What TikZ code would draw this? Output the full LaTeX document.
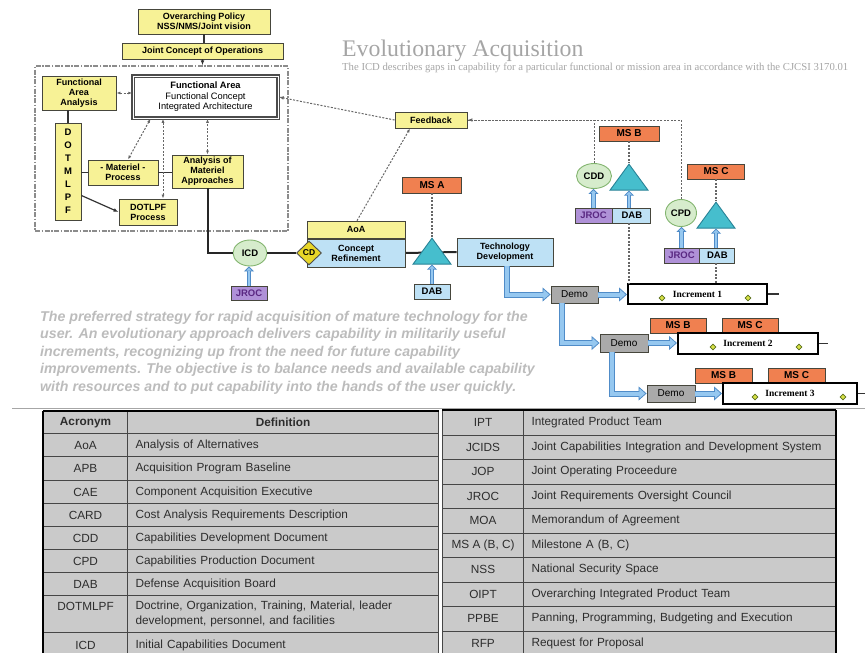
\documentclass[tikz,border=0pt]{standalone}
\usepackage{fontspec}
\setmainfont{Liberation Sans}
\newfontfamily\serifface{Liberation Serif}
\usepackage{xcolor}
\usetikzlibrary{arrows.meta,positioning,shapes.geometric,calc,backgrounds}

\definecolor{boxyellow}{RGB}{247,242,150}
\definecolor{boxedge}{RGB}{70,70,60}
\definecolor{msorange}{RGB}{240,128,80}
\definecolor{paleblue}{RGB}{190,225,245}
\definecolor{triteal}{RGB}{70,190,205}
\definecolor{triedge}{RGB}{40,130,150}
\definecolor{docgreen}{RGB}{214,236,204}
\definecolor{docedge}{RGB}{130,180,110}
\definecolor{jrocpurple}{RGB}{175,145,215}
\definecolor{jroctext}{RGB}{90,40,130}
\definecolor{cdyellow}{RGB}{232,214,40}
\definecolor{demogray}{RGB}{170,170,170}
\definecolor{arrowfill}{RGB}{150,200,240}
\definecolor{arrowedge}{RGB}{80,140,200}
\definecolor{gemfill}{RGB}{215,225,70}
\definecolor{gemedge}{RGB}{90,110,30}
\definecolor{titlegray}{RGB}{165,165,165}
\definecolor{paragray}{RGB}{188,188,188}
\definecolor{tabfill}{RGB}{202,202,202}
\definecolor{tabline}{RGB}{70,70,70}
\definecolor{tabtext}{RGB}{45,45,45}

\begin{document}
\begin{tikzpicture}[x=1pt,y=-1pt,
  box/.style={draw=boxedge,fill=boxyellow,line width=0.9pt,align=center,inner sep=0,
              font=\fontsize{9}{10}\selectfont\bfseries},
  fabox/.style={draw=black!70,fill=white,line width=1.5pt,double=white,double distance=1pt,
              align=center,inner sep=0,font=\fontsize{9.3}{10.5}\selectfont},
  frame/.style={draw=black!45,line width=1.2pt,dash pattern=on 5pt off 1.5pt on 1.5pt off 1.5pt},
  msbox/.style={box,fill=msorange,font=\fontsize{10}{11}\selectfont\bfseries},
  bluebox/.style={box,fill=paleblue},
  smallbox/.style={box,font=\fontsize{9.5}{10}\selectfont\bfseries},
  jroc/.style={smallbox,fill=jrocpurple,text=jroctext},
  doc/.style={ellipse,draw=docedge,fill=docgreen,line width=0.9pt,inner sep=0,
              font=\fontsize{9.5}{10}\selectfont\bfseries},
  cdmark/.style={diamond,draw=black!70,fill=cdyellow,line width=0.9pt,inner sep=0,
              minimum width=25,minimum height=24,font=\fontsize{8.5}{9}\selectfont\bfseries},
  tri/.style={isosceles triangle,isosceles triangle stretches,shape border rotate=90,
              draw=triedge,fill=triteal,line width=0.9pt,inner sep=0,minimum width=38,minimum height=26},
  demo/.style={box,fill=demogray,font=\fontsize{10}{11}\selectfont},
  incbox/.style={draw=black,line width=2pt,fill=white,inner sep=0,
              font=\serifface\fontsize{9.5}{10}\selectfont\bfseries},
  gem/.style={diamond,draw=gemedge,fill=gemfill,line width=0.6pt,inner sep=0,minimum size=6},
  link/.style={line width=2pt,draw=black!85},
  thinlink/.style={line width=1.2pt,draw=black!80},
  dotline/.style={line width=1pt,draw=black!60,dash pattern=on 2pt off 1.5pt},
  fat/.style={draw=arrowedge,line width=6pt,
              -{Triangle[length=8pt,width=14pt,line width=0.8pt,fill=arrowfill]},
              postaction={draw=arrowfill,line width=4pt,-,shorten >=7pt}},
  upfat/.style={draw=arrowedge,line width=4.5pt,
              -{Triangle[length=5pt,width=10pt,line width=0.8pt,fill=arrowfill]},
              postaction={draw=arrowfill,line width=2.8pt,-,shorten >=4.5pt}},
  acr/.style={draw=tabline,fill=tabfill,line width=1.1pt,anchor=north west,inner sep=0,align=center,
              minimum width=84,minimum height=23,text=tabtext,font=\fontsize{11.8}{15}\selectfont},
  defn/.style={acr,minimum width=311,text width=295,inner xsep=8,align=left},
  racr/.style={acr,minimum width=81,minimum height=24.5},
  rdefn/.style={racr,minimum width=312,text width=296,inner xsep=8,align=left}]
\useasboundingbox (0,0) rectangle (865,653);

\node[anchor=base west,text=titlegray,inner sep=0,font=\serifface\fontsize{23.8}{25}\selectfont]
  (title) at (342,56) {Evolutionary Acquisition};
\node[anchor=base west,text=titlegray,inner sep=0,font=\serifface\fontsize{10.7}{11}\selectfont]
  (subtitle) at (342,70) {The ICD describes gaps in capability for a particular functional or
  mission area in accordance with the CJCSI 3170.01};

\node[box,minimum width=132,minimum height=25] (policy) at (204,21.5) {Overarching Policy\\NSS/NMS/Joint vision};
\node[box,minimum width=161,minimum height=16] (jco) at (202.5,51) {Joint Concept of Operations};
\node[frame,minimum width=253,minimum height=165] (area) at (161.5,148.5) {};
\node[box,minimum width=74,minimum height=34] (faa) at (79,93) {Functional\\Area\\Analysis};
\node[fabox,minimum width=145,minimum height=42] (fa) at (205.5,97)
  {{\bfseries Functional Area}\\Functional Concept\\Integrated Architecture};
\node[box,minimum width=26,minimum height=97,font=\fontsize{9.5}{13}\selectfont\bfseries]
  (dotmlpf) at (68,171.5) {D\\O\\T\\M\\L\\P\\F};
\node[box,minimum width=70,minimum height=25] (matproc) at (123,172.5) {- Materiel -\\Process};
\node[box,minimum width=71,minimum height=33] (ama) at (207.5,171.5) {Analysis of\\Materiel\\Approaches};
\node[box,minimum width=58,minimum height=26] (dotlpf) at (148,212) {DOTLPF\\Process};

\draw[thinlink] (policy.south) -- (policy.south |- jco.north);
\draw[thinlink,-{Latex[length=5pt]}] (jco.south) -- (jco.south |- area.north);
\draw[dotline,{Latex[length=4pt]}-{Latex[length=4pt]}] (faa.east) -- (faa.east -| fa.west);
\draw[thinlink] (dotmlpf.north) -- (dotmlpf.north |- faa.south);
\draw[thinlink] (matproc.west -| dotmlpf.east) -- (matproc.west);
\draw[thinlink] (matproc.east) -- (matproc.east -| ama.west);
\draw[thinlink,-{Latex[length=5pt]}] ($(dotmlpf.east)+(0,24)$) -- (dotlpf.west);
\draw[dotline,{Latex[length=4pt]}-{Latex[length=4pt]}] ([xshift=-55]fa.south) -- ([xshift=5]matproc.north);
\draw[dotline,{Latex[length=4pt]}-{Latex[length=4pt]}] ([xshift=15]dotlpf.north) -- ([xshift=15]dotlpf.north |- fa.south);
\draw[dotline,{Latex[length=4pt]}-{Latex[length=4pt]}] (ama.north) -- (ama.north |- fa.south);

\node[doc,minimum width=34,minimum height=26] (icd) at (250,253) {ICD};
\node[jroc,minimum width=36,minimum height=14] (jroc1) at (249,293) {JROC};
\node[bluebox,minimum width=98,minimum height=28] (cr) at (356,253) {Concept\\Refinement};
\node[box,minimum width=98,minimum height=17,above=0pt of cr] (aoa) {AoA};
\node[cdmark] (cd) at (309,253) {CD};
\node[tri,anchor=apex] (trA) at (432,237) {};
\node[msbox,minimum width=59,minimum height=16] (msa) at (432,185) {MS A};
\node[bluebox,smallbox,fill=paleblue,minimum width=36,minimum height=15] (dab1) at (432,291.5) {DAB};
\node[bluebox,minimum width=96,minimum height=28] (td) at (505,252) {Technology\\Development};
\node[box,minimum width=72,minimum height=16] (fb) at (431,120) {Feedback};

\begin{scope}[on background layer]
\draw[link] (cr.east) -- (td.west);
\end{scope}
\draw[link] (ama.south) |- (icd.west);
\draw[link] (icd) -- (cd);
\draw[dotline,line width=1.3pt] (msa.south) -- (trA.apex);
\draw[upfat] (jroc1.north) -- (jroc1.north |- icd.south);
\draw[upfat] (dab1.north) -- (dab1.north |- trA.south);
\draw[dotline,-{Latex[length=4pt]}] ([xshift=1]aoa.north) -- ([xshift=-21]fb.south);
\draw[dotline,-{Latex[length=5pt]}] (fb.west) -- (fa.east);

\node[doc,minimum width=35,minimum height=25] (cdd) at (594,176) {CDD};
\node[tri,anchor=apex] (trB) at (629,163) {};
\node[msbox,minimum width=60,minimum height=15] (msb) at (629,133.5) {MS B};
\node[jroc,minimum width=37,minimum height=15] (jroc2) at (593.5,215.5) {JROC};
\node[smallbox,fill=paleblue,minimum width=38,minimum height=15,right=0pt of jroc2] (dab2) {DAB};
\node[doc,minimum width=31,minimum height=27] (cpd) at (681,213) {CPD};
\node[tri,anchor=apex] (trC) at (716,201) {};
\node[msbox,minimum width=57,minimum height=15] (msc) at (716,171.5) {MS C};
\node[jroc,minimum width=35,minimum height=15] (jroc3) at (681.5,255.5) {JROC};
\node[smallbox,fill=paleblue,minimum width=35,minimum height=15,right=0pt of jroc3] (dab3) {DAB};

\draw[dotline,line width=1.3pt] (msb.south) -- (trB.apex);
\draw[dotline,line width=1.3pt] (msc.south) -- (trC.apex);
\draw[upfat] (jroc2.north) -- (jroc2.north |- cdd.south);
\draw[upfat] (trB.south |- dab2.north) -- (trB.south);
\draw[upfat] (jroc3.north) -- (jroc3.north |- cpd.south);
\draw[upfat] (trC.south |- dab3.north) -- (trC.south);
\draw[dotline] (cpd.north) |- (fb.east);
\draw[dotline,-{Latex[length=5pt]}] (cdd.north) |- (fb.east);

\node[demo,minimum width=47,minimum height=17] (demo1) at (574.5,294.5) {Demo};
\node[incbox,minimum width=139,minimum height=20] (inc1) at (697.5,294) {Increment 1};
\node[demo,minimum width=48,minimum height=18] (demo2) at (624,343) {Demo};
\node[msbox,minimum width=56,minimum height=15] (msb2) at (678,325.5) {MS B};
\node[msbox,minimum width=56,minimum height=15] (msc2) at (750,325.5) {MS C};
\node[incbox,minimum width=140,minimum height=21] (inc2) at (748,343.5) {Increment 2};
\node[demo,minimum width=48,minimum height=17] (demo3) at (671,393.5) {Demo};
\node[msbox,minimum width=57,minimum height=15] (msb3) at (723.5,375.5) {MS B};
\node[msbox,minimum width=57,minimum height=15] (msc3) at (796.5,375.5) {MS C};
\node[incbox,minimum width=134,minimum height=21] (inc3) at (790,393.5) {Increment 3};
\node[gem] (g1a) at (662,298) {};
\node[gem] (g1b) at (748,298) {};
\node[gem] (g2a) at (713,347) {};
\node[gem] (g2b) at (799,347) {};
\node[gem] (g3a) at (755,397) {};
\node[gem] (g3b) at (843,397) {};

\draw[dotline,line width=1.3pt] (trB.south |- dab2.south) -- (trB.south |- inc1.north);
\draw[dotline,line width=1.3pt] (trC.south |- dab3.south) -- (trC.south |- inc1.north);
\draw[fat] ([xshift=2]td.south) |- (demo1.west);
\draw[fat] (demo1.east) -- (demo1.east -| inc1.west);
\draw[fat] ([xshift=-12.5]demo1.south) |- (demo2.west);
\draw[fat] (demo2.east) -- (demo2.east -| inc2.west);
\draw[fat] ([xshift=-12]demo2.south) |- (demo3.west);
\draw[fat] (demo3.east) -- (demo3.east -| inc3.west);
\draw[thinlink] (inc1.east) -- ++(11,0);
\draw[thinlink] (inc2.east) -- ++(9,0);
\draw[thinlink] (inc3.east) -- ++(12,0);

\node[anchor=north west,align=left,text=paragray,inner sep=0,
  font=\fontsize{14.2}{17.5}\selectfont\bfseries\itshape] (blurb) at (40,311)
  {The preferred strategy for rapid acquisition of mature technology for the\\
   user. An evolutionary approach delivers capability in militarily useful\\
   increments, recognizing up front the need for future capability\\
   improvements. The objective is to balance needs and available capability\\
   with resources and to put capability into the hands of the user quickly.};

\draw[gray!70,line width=1pt] (12,408) -- (865,408);

\node[acr,minimum height=22] (la0) at (43,411) {\bfseries Acronym};
\node[defn,minimum height=22,align=center] (ld0) at (127,411) {\bfseries Definition};
\node[acr] (la1) at (43,433) {AoA};
\node[defn] (ld1) at (127,433) {Analysis of Alternatives};
\node[acr,minimum height=24] (la2) at (43,456) {APB};
\node[defn,minimum height=24] (ld2) at (127,456) {Acquisition Program Baseline};
\node[acr] (la3) at (43,480) {CAE};
\node[defn] (ld3) at (127,480) {Component Acquisition Executive};
\node[acr] (la4) at (43,503) {CARD};
\node[defn] (ld4) at (127,503) {Cost Analysis Requirements Description};
\node[acr] (la5) at (43,526) {CDD};
\node[defn] (ld5) at (127,526) {Capabilities Development Document};
\node[acr] (la6) at (43,549) {CPD};
\node[defn] (ld6) at (127,549) {Capabilities Production Document};
\node[acr] (la7) at (43,572) {DAB};
\node[defn] (ld7) at (127,572) {Defense Acquisition Board};
\node[acr,minimum height=37] (la8) at (43,595) {DOTMLPF\\\phantom{D}};
\node[defn,minimum height=37] (ld8) at (127,595) {Doctrine, Organization, Training, Material, leader\\
  development, personnel, and facilities};
\node[acr,minimum height=25] (la9) at (43,632) {ICD};
\node[defn,minimum height=25] (ld9) at (127,632) {Initial Capabilities Document};

\node[racr] (ra0) at (442,410) {IPT};
\node[rdefn] (rd0) at (523,410) {Integrated Product Team};
\node[racr] (ra1) at (442,434.5) {JCIDS};
\node[rdefn] (rd1) at (523,434.5) {Joint Capabilities Integration and Development System};
\node[racr] (ra2) at (442,459) {JOP};
\node[rdefn] (rd2) at (523,459) {Joint Operating Proceedure};
\node[racr] (ra3) at (442,483.5) {JROC};
\node[rdefn] (rd3) at (523,483.5) {Joint Requirements Oversight Council};
\node[racr] (ra4) at (442,508) {MOA};
\node[rdefn] (rd4) at (523,508) {Memorandum of Agreement};
\node[racr] (ra5) at (442,532.5) {MS A (B, C)};
\node[rdefn] (rd5) at (523,532.5) {Milestone A (B, C)};
\node[racr] (ra6) at (442,557) {NSS};
\node[rdefn] (rd6) at (523,557) {National Security Space};
\node[racr] (ra7) at (442,581.5) {OIPT};
\node[rdefn] (rd7) at (523,581.5) {Overarching Integrated Product Team};
\node[racr] (ra8) at (442,606) {PPBE};
\node[rdefn] (rd8) at (523,606) {Panning, Programming, Budgeting and Execution};
\node[racr] (ra9) at (442,630.5) {RFP};
\node[rdefn] (rd9) at (523,630.5) {Request for Proposal};

\draw[line width=2.2pt] (la0.north west) -- (la9.south west);
\draw[line width=1.6pt] (la0.north west) -- (ld0.north east);
\draw[line width=1.6pt] (ra0.north west) -- (rd0.north east);
\draw[line width=2.2pt] (rd0.north east) -- (rd9.south east);
\end{tikzpicture}
\end{document}
